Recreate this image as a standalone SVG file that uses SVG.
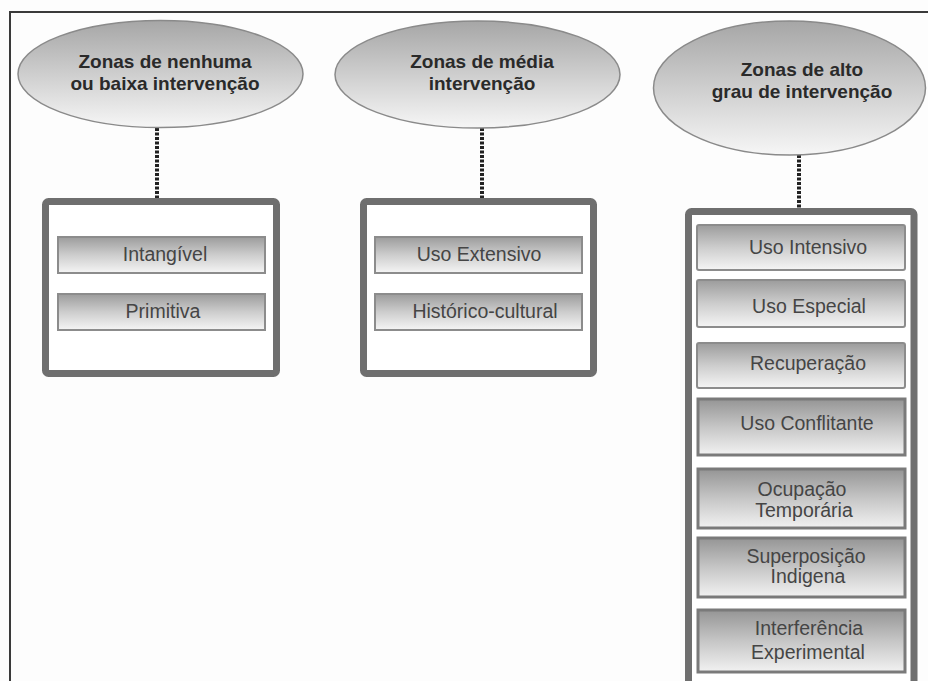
<svg xmlns="http://www.w3.org/2000/svg" width="928" height="681" viewBox="0 0 928 681">
  <defs>
    <linearGradient id="ovalFill" x1="0" y1="0" x2="0" y2="1">
      <stop offset="0" stop-color="#a6a6a6"/>
      <stop offset="0.55" stop-color="#d2d2d2"/>
      <stop offset="1" stop-color="#f6f6f6"/>
    </linearGradient>
    <linearGradient id="itemFill" x1="0" y1="0" x2="0" y2="1">
      <stop offset="0" stop-color="#9c9c9c"/>
      <stop offset="0.5" stop-color="#cdcdcd"/>
      <stop offset="1" stop-color="#f5f5f5"/>
    </linearGradient>
    <linearGradient id="itemFillDark" x1="0" y1="0" x2="0" y2="1">
      <stop offset="0" stop-color="#959595"/>
      <stop offset="0.5" stop-color="#c6c6c6"/>
      <stop offset="1" stop-color="#f2f2f2"/>
    </linearGradient>
  </defs>
  <style>
    .frame { stroke: #3a3a3a; stroke-width: 2; fill: none; }
    .oval { fill: url(#ovalFill); stroke: #8a8a8a; stroke-width: 1.5; }
    .head { font-family: "Liberation Sans", Arial, sans-serif; font-weight: bold; font-size: 19px; fill: #2a2a2a; text-anchor: middle; }
    .group { fill: #ffffff; stroke: #6f6f6f; stroke-width: 7; }
    .item { fill: url(#itemFill); stroke: #8c8c8c; stroke-width: 2; }
    .item2 { fill: url(#itemFillDark); stroke: #7a7a7a; stroke-width: 3; }
    .label { font-family: "Liberation Sans", Arial, sans-serif; font-size: 19.5px; fill: #454545; text-anchor: middle; }
    .link { stroke: #222222; stroke-width: 4; stroke-dasharray: 3 1.5; fill: none; }
  </style>

  <rect x="0" y="0" width="928" height="681" fill="#fdfdfd"/>

  <!-- page frame -->
  <path class="frame" d="M10 681 V12 H928"/>

  <!-- connectors -->
  <g id="connectors">
    <line class="link" x1="157" y1="128" x2="157" y2="199"/>
    <line class="link" x1="482" y1="128" x2="482" y2="199"/>
    <line class="link" x1="799" y1="155" x2="799" y2="209"/>
  </g>

  <!-- low intervention -->
  <g id="zona-baixa">
    <ellipse class="oval" cx="160.5" cy="74" rx="142.5" ry="53.5"/>
    <text class="head" x="165" y="68">Zonas de nenhuma</text>
    <text class="head" x="165" y="90">ou baixa intervenção</text>
  </g>
  <g id="grupo-baixa">
    <rect class="group" x="45.5" y="201.5" width="231" height="172" rx="3"/>
    <g id="intangivel">
      <rect class="item" x="58" y="237" width="207" height="36"/>
      <text class="label" x="165" y="261">Intangível</text>
    </g>
    <g id="primitiva">
      <rect class="item" x="58" y="294" width="207" height="36"/>
      <text class="label" x="163" y="318">Primitiva</text>
    </g>
  </g>

  <!-- medium intervention -->
  <g id="zona-media">
    <ellipse class="oval" cx="477.5" cy="74.5" rx="142.5" ry="53.5"/>
    <text class="head" x="482" y="68">Zonas de média</text>
    <text class="head" x="482" y="90">intervenção</text>
  </g>
  <g id="grupo-media">
    <rect class="group" x="363.5" y="201.5" width="230" height="172" rx="3"/>
    <g id="uso-extensivo">
      <rect class="item" x="375" y="237" width="207" height="36"/>
      <text class="label" x="479" y="261">Uso Extensivo</text>
    </g>
    <g id="historico-cultural">
      <rect class="item" x="375" y="294" width="207" height="36"/>
      <text class="label" x="485" y="318">Histórico-cultural</text>
    </g>
  </g>

  <!-- high intervention -->
  <g id="zona-alta">
    <ellipse class="oval" cx="789.5" cy="88" rx="136" ry="67"/>
    <text class="head" x="802" y="76">Zonas de alto</text>
    <text class="head" x="802" y="98">grau de intervenção</text>
  </g>
  <g id="grupo-alta">
    <rect class="group" x="688.5" y="211.5" width="225.5" height="500" rx="3"/>
    <g id="uso-intensivo">
      <rect class="item" x="697" y="225" width="208" height="45" rx="2"/>
      <text class="label" x="808" y="254">Uso Intensivo</text>
    </g>
    <g id="uso-especial">
      <rect class="item" x="697" y="280" width="208" height="47" rx="2"/>
      <text class="label" x="809" y="313">Uso Especial</text>
    </g>
    <g id="recuperacao">
      <rect class="item" x="697" y="343" width="208" height="45" rx="2"/>
      <text class="label" x="808" y="370">Recuperação</text>
    </g>
    <g id="uso-conflitante">
      <rect class="item2" x="698" y="399" width="207" height="56"/>
      <text class="label" x="807" y="430">Uso Conflitante</text>
    </g>
    <g id="ocupacao-temporaria">
      <rect class="item2" x="698" y="469" width="207" height="59"/>
      <text class="label" x="802" y="496">Ocupação</text>
      <text class="label" x="804" y="517">Temporária</text>
    </g>
    <g id="superposicao-indigena">
      <rect class="item2" x="698" y="538" width="207" height="59"/>
      <text class="label" x="806" y="563">Superposição</text>
      <text class="label" x="808" y="583">Indigena</text>
    </g>
    <g id="interferencia-experimental">
      <rect class="item2" x="698" y="610" width="207" height="62"/>
      <text class="label" x="809" y="635">Interferência</text>
      <text class="label" x="808" y="659">Experimental</text>
    </g>
  </g>
</svg>
